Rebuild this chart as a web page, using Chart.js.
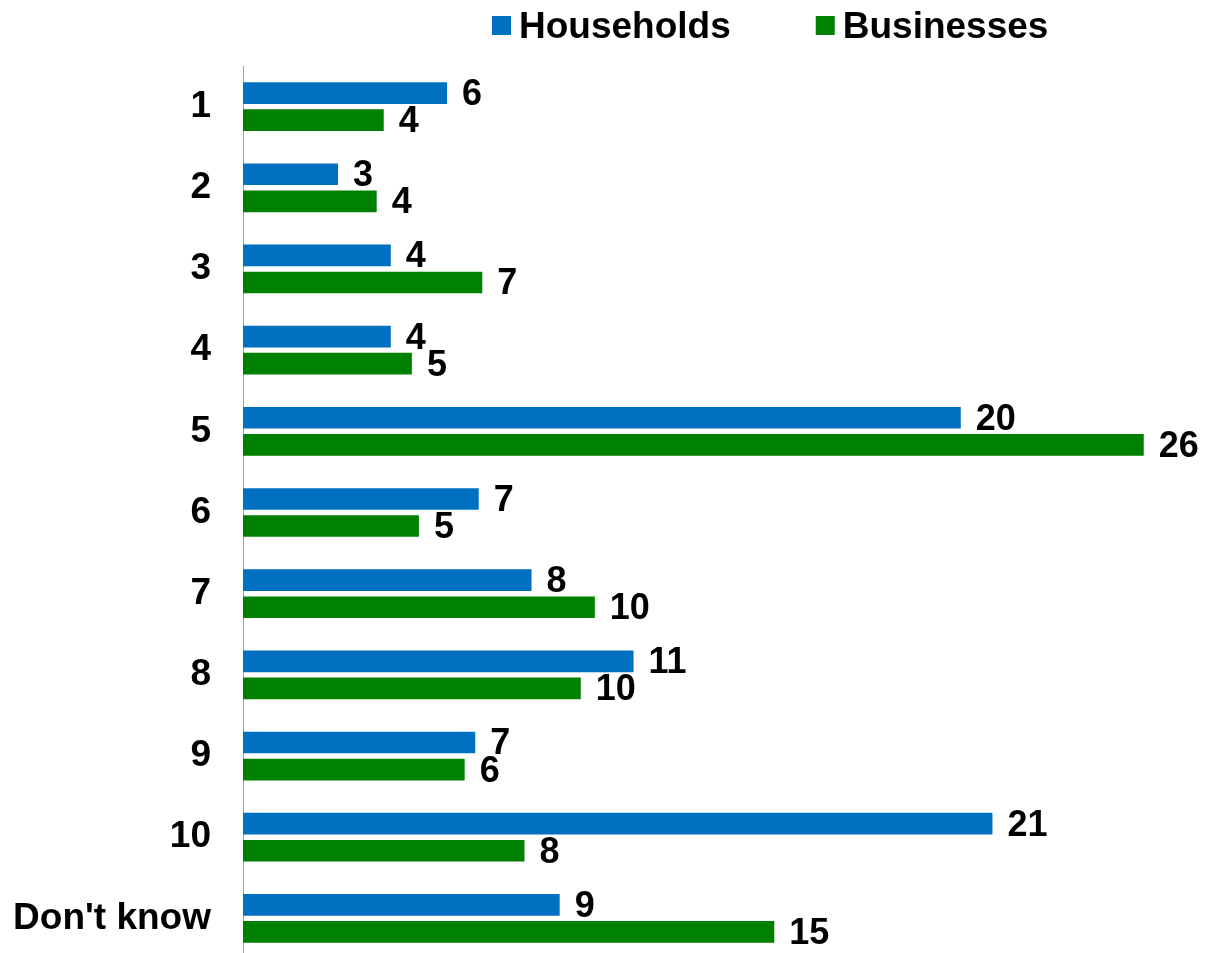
<!DOCTYPE html>
<html>
<head>
<meta charset="utf-8">
<title>Households vs Businesses</title>
<script src="https://cdn.jsdelivr.net/npm/chart.js@4/dist/chart.umd.min.js"></script>
<style>
  html, body { margin: 0; padding: 0; background: #fff; overflow: hidden; }
  body { width: 1205px; height: 953px; }
  canvas { display: block; }
</style>
</head>
<body>
<canvas id="chart-ratings" width="1205" height="959"></canvas>
<script>
document.addEventListener("DOMContentLoaded", () => {

  /* data
  # ------------------------------------------------------------------------------------------------
  */
  const categories = ["1", "2", "3", "4", "5", "6", "7", "8", "9", "10", "Don't know"];
  const households = [5.8, 2.7, 4.2, 4.2, 20.4, 6.7, 8.2, 11.1, 6.6, 21.3, 9.0];
  const businesses = [4.0, 3.8, 6.8, 4.8, 25.6, 5.0, 10.0, 9.6, 6.3, 8.0, 15.1];

  const FONT = '"Liberation Sans", Arial, sans-serif';

  /* legend drawn along the top, tighter box/text gap than the built-in one
  # ------------------------------------------------------------------------------------------------
  */
  const topLegend = {
    id: 'topLegend',
    afterDraw(chart) {
      const ctx = chart.ctx;
      ctx.save();
      ctx.font = 'bold 37px ' + FONT;
      ctx.textBaseline = 'alphabetic';
      ctx.textAlign = 'left';
      let x = 492;
      chart.data.datasets.forEach(ds => {
        ctx.fillStyle = ds.backgroundColor;
        ctx.fillRect(x, 16, 19, 19);
        ctx.fillStyle = '#000';
        ctx.fillText(ds.label, x + 27, 37.5);
        x += 27 + ctx.measureText(ds.label).width + 85;
      });
      ctx.restore();
    }
  };

  /* value labels at the end of each bar
  # ------------------------------------------------------------------------------------------------
  */
  const barValues = {
    id: 'barValues',
    afterDatasetsDraw(chart) {
      const ctx = chart.ctx;
      ctx.save();
      ctx.font = 'bold 36px ' + FONT;
      ctx.fillStyle = '#000';
      ctx.textAlign = 'left';
      ctx.textBaseline = 'middle';
      chart.data.datasets.forEach((ds, i) => {
        const meta = chart.getDatasetMeta(i);
        meta.data.forEach((bar, j) => {
          ctx.fillText(String(Math.round(ds.data[j])), bar.x + 15, bar.y + 2);
        });
      });
      ctx.restore();
    }
  };

  /* chart
  # ------------------------------------------------------------------------------------------------
  */
  const ctx = document.getElementById('chart-ratings');

  new Chart(ctx, {
    type: 'bar',
    data: {
      labels: categories,
      datasets: [
        {
          label: 'Households',
          data: households,
          backgroundColor: '#0070C0',
          borderWidth: 0,
          categoryPercentage: 0.667,
          barPercentage: 0.8
        },
        {
          label: 'Businesses',
          data: businesses,
          backgroundColor: '#008000',
          borderWidth: 0,
          categoryPercentage: 0.667,
          barPercentage: 0.8
        }
      ]
    },
    options: {
      indexAxis: 'y',
      responsive: false,
      animation: false,
      devicePixelRatio: 1,
      layout: {
        padding: { top: 66, right: 12, bottom: 0, left: 0 }
      },
      plugins: {
        legend: { display: false },
        tooltip: { enabled: false }
      },
      scales: {
        x: {
          display: false,
          min: 0,
          max: 27
        },
        y: {
          grid: { display: false, drawTicks: false },
          border: { display: true, color: '#a0a0a0', width: 1 },
          ticks: {
            color: '#000',
            padding: 32,
            font: { family: FONT, size: 37, weight: 'bold' }
          },
          afterFit(scale) {
            scale.width = 243;
            scale.paddingTop = 0;
            scale.paddingBottom = 0;
          }
        }
      }
    },
    plugins: [topLegend, barValues]
  });

});
</script>
</body>
</html>
